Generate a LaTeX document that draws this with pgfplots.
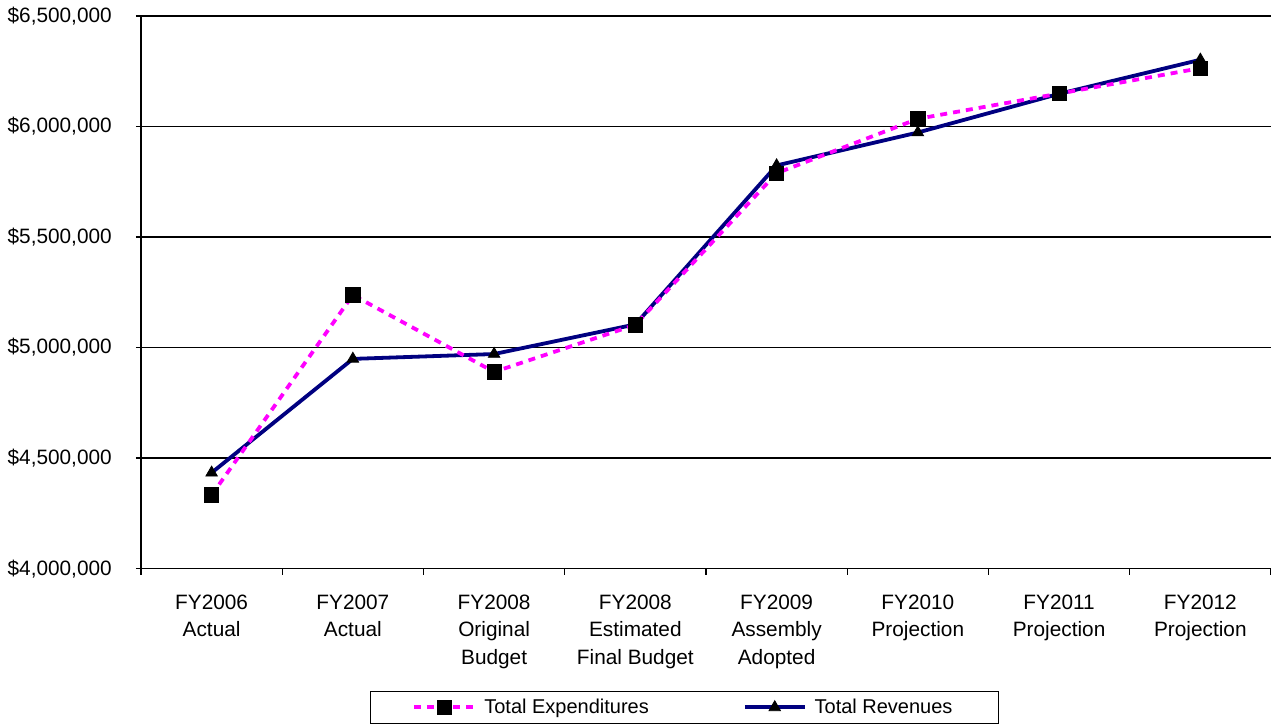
\documentclass[border=0pt]{standalone}
\usepackage{pgfplots}
\pgfplotsset{compat=1.18}
\usepackage{fontspec}
\setmainfont{Liberation Sans}
\definecolor{expend}{RGB}{255,0,255}
\definecolor{revnavy}{RGB}{0,0,128}

\begin{document}
\begin{tikzpicture}
\begin{axis}[
  at={(0,0)}, anchor=south west,
  scale only axis, width=565pt, height=276.35pt,
  xmin=-0.5, xmax=7.5, ymin=4000000, ymax=6500000,
  axis x line*=bottom, axis y line*=left,
  axis line style={black, line width=0.75pt},
  ytick={4000000,4500000,5000000,5500000,6000000,6500000},
  yticklabels={{\$4,000,000},{\$4,500,000},{\$5,000,000},{\$5,500,000},{\$6,000,000},{\$6,500,000}},
  ymajorgrids, major grid style={black, line width=0.7pt},
  ytick style={black, line width=0.7pt},
  yticklabel style={font=\fontsize{10.4}{12}\selectfont, xshift=-8.6pt, inner ysep=1pt},
  xtick={0,1,2,3,4,5,6,7},
  xticklabels={{FY2006\\Actual},{FY2007\\Actual},{FY2008\\Original\\Budget},{FY2008\\Estimated\\Final Budget},{FY2009\\Assembly\\Adopted},{FY2010\\Projection},{FY2011\\Projection},{FY2012\\Projection}},
  xticklabel style={font=\fontsize{10.4}{13.75}\selectfont, align=center, yshift=-7pt},
  major x tick style={draw=none},
  minor xtick={-0.5,0.5,1.5,2.5,3.5,4.5,5.5,6.5,7.5},
  minor x tick style={black, line width=0.6pt},
  tick align=outside, major tick length=2.5pt, minor tick length=3pt,
  clip=false,
  reverse legend,
  legend columns=2,
  legend style={
    at={(0.481,-0.2213)}, anchor=north, draw=black, line width=0.6pt,
    font=\fontsize{10}{12}\selectfont,
    inner xsep=21pt, inner ysep=1.5pt,
    /tikz/every odd column/.append style={column sep=2pt},
    /tikz/every even column/.append style={column sep=45pt},
  },
  legend image code/.code={\draw[mark repeat=2,mark phase=2] plot coordinates {(0pt,0pt) (15pt,0pt) (30pt,0pt)};},
]
% revenues (solid navy, triangles)
\addplot[revnavy, line width=1.9pt, mark=triangle*, mark size=3.3pt,
  mark options={solid, fill=black, draw=black, line width=0.4pt}]
  coordinates {(0,4434000) (1,4949000) (2,4971000) (3,5105000)
               (4,5824000) (5,5973000) (6,6148000) (7,6302000)};
\addlegendentry{Total Revenues}
% expenditures (dashed magenta, squares)
\addplot[expend, line width=1.9pt, dash pattern=on 3.5pt off 3pt, mark=square*, mark size=3.6pt,
  mark options={solid, fill=black, draw=black, line width=0.4pt}]
  coordinates {(0,4333000) (1,5238000) (2,4890000) (3,5103000)
               (4,5789000) (5,6035000) (6,6149000) (7,6264000)};
\addlegendentry{Total Expenditures}
\end{axis}
\pgfresetboundingbox
\path[use as bounding box] (-70.5pt,-79.65pt) rectangle (565pt,284.35pt);
\end{tikzpicture}
\end{document}
